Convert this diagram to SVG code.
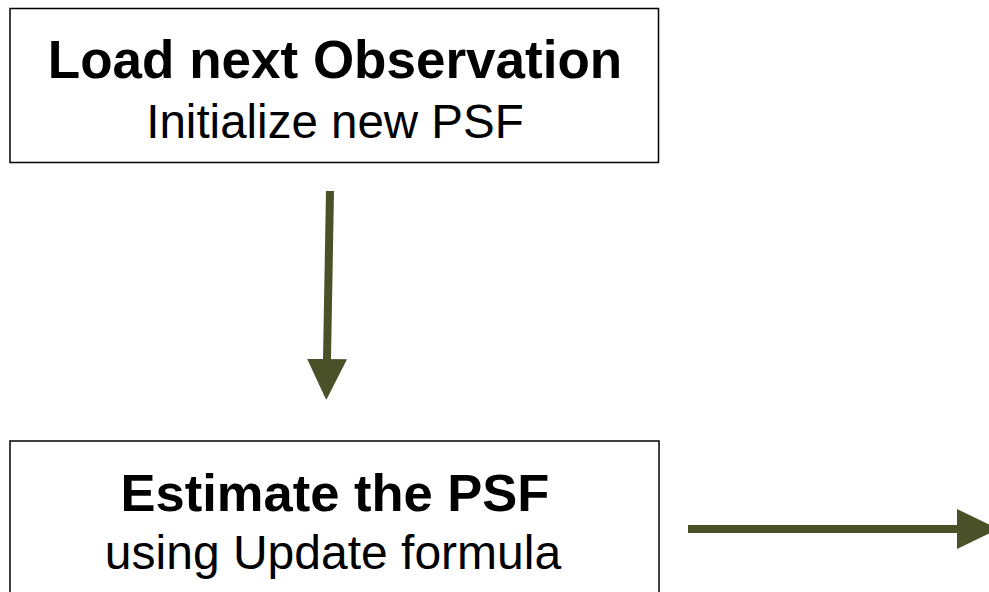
<svg xmlns="http://www.w3.org/2000/svg" width="989" height="592" viewBox="0 0 989 592">
  <style>
    .box { fill: #ffffff; stroke: #000000; stroke-width: 1.5; }
    .title { font-family: "Liberation Sans", Arial, sans-serif; font-weight: bold; font-size: 53px; fill: #000000; text-anchor: middle; }
    .sub { font-family: "Liberation Sans", Arial, sans-serif; font-size: 48px; fill: #000000; text-anchor: middle; }
    .conn { stroke: #4a5128; stroke-width: 8; fill: none; }
  </style>
  <defs>
    <marker id="head" viewBox="0 0 40 40" markerWidth="40" markerHeight="40" refX="0" refY="20" orient="auto" markerUnits="userSpaceOnUse">
      <path d="M0,0 L41,20 L0,40 Z" fill="#4a5128"/>
    </marker>
  </defs>
  <rect width="989" height="592" fill="#ffffff"/>
  <g id="node-load">
    <rect class="box" x="10" y="8.5" width="648.5" height="154"/>
    <text class="title" x="335" y="78">Load next Observation</text>
    <text class="sub" x="335" y="138" style="font-size:47.5px">Initialize new PSF</text>
  </g>
  <g id="node-estimate">
    <rect class="box" x="10" y="441" width="649" height="170"/>
    <text class="title" x="335" y="510.5" style="font-size:52.5px">Estimate the PSF</text>
    <text class="sub" x="333" y="569">using Update formula</text>
  </g>
  <g id="connectors">
    <line class="conn" x1="330" y1="191" x2="327" y2="359" marker-end="url(#head)"/>
    <line class="conn" x1="688" y1="529" x2="957" y2="529" marker-end="url(#head)"/>
  </g>
</svg>
